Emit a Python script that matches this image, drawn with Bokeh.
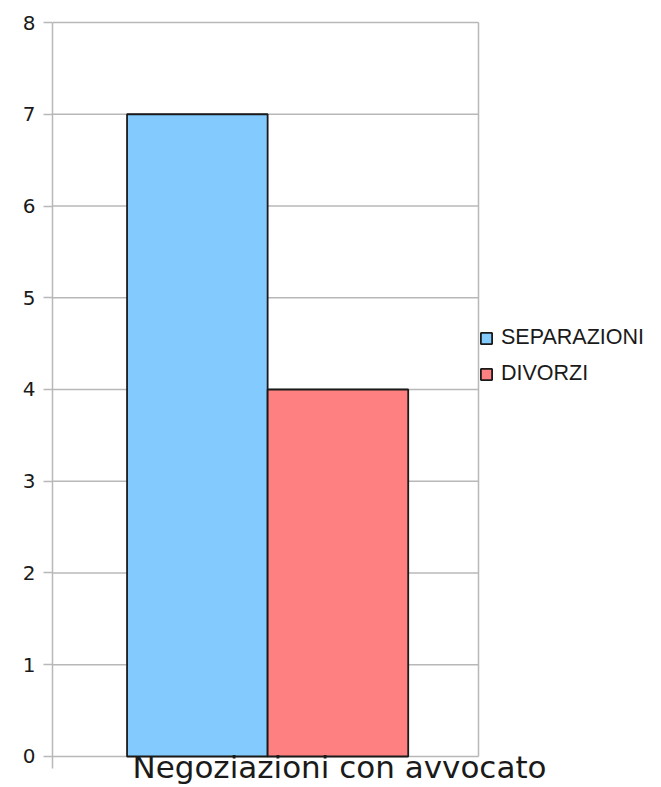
from bokeh.plotting import figure
from bokeh.models import Legend, LegendItem, FixedTicker, Range1d
from bokeh.embed import file_html
from bokeh.resources import INLINE

categories = ["Negoziazioni con avvocato"]
series_names = ["SEPARAZIONI", "DIVORZI"]
separazioni = [7]
divorzi = [4]
y_ticks = [0, 1, 2, 3, 4, 5, 6, 7, 8]

GRID = "#b8b8b8"

# category band i spans [i, i+1] on the x scale; extra space on the right holds the legend
cat_pos = [i + 0.5 for i in range(len(categories))]
n_cat = len(categories)

p = figure(x_range=Range1d(0, n_cat * 609 / 426), y_range=Range1d(-0.131, 8.022),
           width=661, height=787, output_backend="svg", toolbar_location=None,
           min_border_left=52, min_border_right=0, min_border_top=20, min_border_bottom=19)

# grid lines and right border of the plot area
p.segment(x0=[0] * len(y_ticks), x1=[n_cat] * len(y_ticks), y0=y_ticks, y1=y_ticks,
          line_color=GRID, line_width=1.5, level="underlay")
p.segment(x0=[n_cat], x1=[n_cat], y0=[y_ticks[0]], y1=[y_ticks[-1]],
          line_color=GRID, line_width=1.5, level="underlay")

r1 = p.vbar(x=[c - 0.16 for c in cat_pos], top=separazioni, width=0.33,
            fill_color="#83caff", line_color="#1a1a1a", line_width=1.8)
r2 = p.vbar(x=[c + 0.17 for c in cat_pos], top=divorzi, width=0.33,
            fill_color="#ff8080", line_color="#1a1a1a", line_width=1.8)

p.xgrid.visible = False
p.ygrid.visible = False
p.outline_line_color = None

xax = p.xaxis[0]
xax.ticker = FixedTicker(ticks=[c + 74 / 426 for c in cat_pos])
xax.major_label_overrides = {c + 74 / 426: name for c, name in zip(cat_pos, categories)}
xax.axis_line_color = None
xax.major_tick_line_color = None
xax.minor_tick_line_color = None
xax.major_tick_out = 0
xax.major_tick_in = 0
xax.major_label_standoff = -20
xax.major_label_text_font = "DejaVu Sans"
xax.major_label_text_font_size = "31px"
xax.major_label_text_color = "#1a1a1a"

yax = p.yaxis[0]
yax.ticker = FixedTicker(ticks=y_ticks)
yax.bounds = (-0.131, 8)
yax.axis_line_color = GRID
yax.axis_line_width = 1.5
yax.major_tick_line_color = GRID
yax.major_tick_line_width = 1.5
yax.major_tick_out = 9
yax.major_tick_in = 0
yax.minor_tick_line_color = None
yax.major_label_standoff = 8
yax.major_label_text_font = "DejaVu Sans"
yax.major_label_text_font_size = "20px"
yax.major_label_text_color = "#1a1a1a"

p.background_fill_color = "white"
p.border_fill_color = "white"

legend = Legend(items=[LegendItem(label=series_names[0], renderers=[r1]),
                       LegendItem(label=series_names[1], renderers=[r2])],
                location=(427, 382), orientation="vertical",
                glyph_width=14, glyph_height=14, label_standoff=8,
                label_height=20, spacing=11, padding=0, margin=0,
                border_line_color=None, background_fill_alpha=0,
                label_text_font="Liberation Sans", label_text_font_size="21.5px",
                label_text_color="#1a1a1a")
p.add_layout(legend, "center")

open("out.html", "w").write(file_html(p, INLINE))
